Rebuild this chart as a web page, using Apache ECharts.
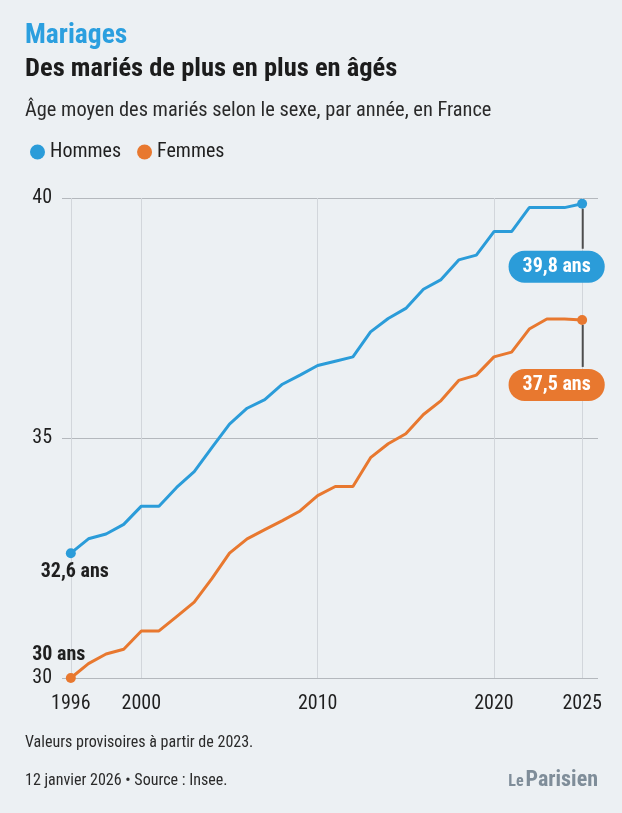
<!DOCTYPE html>
<html>
<head>
<meta charset="utf-8">
<script src="https://cdn.jsdelivr.net/npm/echarts@6/dist/echarts.min.js"></script>
<style>
html,body{margin:0;padding:0;background:#ecf0f3;}
#c{width:622px;height:813px;}
</style>
</head>
<body>
<div id="c"></div>
<script>
// ---- Data ----
const years = [1996,1997,1998,1999,2000,2001,2002,2003,2004,2005,2006,2007,2008,2009,2010,2011,2012,2013,2014,2015,2016,2017,2018,2019,2020,2021,2022,2023,2024,2025];
const hommes = [32.6,32.9,33.0,33.2,33.58,33.58,33.97,34.3,34.8,35.29,35.62,35.8,36.12,36.31,36.51,36.6,36.69,37.21,37.49,37.7,38.1,38.3,38.71,38.81,39.3,39.3,39.8,39.8,39.8,39.88];
const femmes = [30.0,30.3,30.5,30.6,30.98,30.98,31.28,31.58,32.07,32.6,32.9,33.09,33.28,33.48,33.8,33.99,33.99,34.59,34.88,35.09,35.49,35.78,36.2,36.31,36.69,36.79,37.27,37.48,37.48,37.46];
const seriesNames = ['Hommes','Femmes'];
const xTickValues = [1996,2000,2010,2020,2025];
const startLabels = ['32,6 ans','30 ans'];
const endLabels = ['39,8 ans','37,5 ans'];

const NARROW = '"Liberation Sans Narrow","Arial Narrow","Roboto Condensed","DejaVu Sans Condensed","Noto Sans",sans-serif';
const BLUE = '#2b9cd9';
const ORANGE = '#e8782f';
const TEXT = '#1f1f1f';

function makeSeries(idx, values, color, startShift, endShift, barHeight) {
  const n = values.length;
  return {
    type: 'line',
    name: seriesNames[idx],
    data: values.map((v, i) => {
      const item = { value: [years[i], v] };
      if (i === 0) {
        item.label = {
          show: true, position: 'inside',
          formatter: startLabels[idx], color: TEXT,
          fontSize: 20, fontWeight: 'bold', fontFamily: NARROW
        };
      }
      if (i === n - 1) {
        // guide line drawn as a thin rich-text bar right under the point, pill below it
        item.label = {
          show: true, position: 'inside',
          align: 'right', verticalAlign: 'top',
          formatter: '{bar|}{gap|}\n{sp|}\n{p|' + endLabels[idx] + '}',
          rich: {
            bar: { width: 2, height: barHeight, backgroundColor: '#4d4d4d', align: 'right' },
            gap: { width: 21, height: barHeight, align: 'right' },
            sp: { width: 1, height: 8, align: 'right' },
            p: {
              color: '#ffffff', backgroundColor: color, align: 'right',
              padding: [6, 14, 6, 14], borderRadius: 16, height: 20, lineHeight: 20,
              fontSize: 20, fontWeight: 'bold', fontFamily: NARROW
            }
          }
        };
      }
      return item;
    }),
    symbol: 'circle',
    symbolSize: (val, p) => (p.dataIndex === 0 || p.dataIndex === n - 1) ? 10 : 0,
    showSymbol: true,
    showAllSymbol: true,
    lineStyle: { width: 3, color: color },
    itemStyle: { color: color },
    labelLayout: (p) => {
      if (p.dataIndex === 0) return { dx: startShift[0], dy: startShift[1] };
      if (p.dataIndex === n - 1) return { dx: endShift[0], dy: endShift[1] };
      return {};
    },
    silent: true,
    emphasis: { disabled: true }
  };
}

const chart = echarts.init(document.getElementById('c'), null, { renderer: 'canvas' });
chart.setOption({
  backgroundColor: '#ecf0f3',
  animation: false,
  color: [BLUE, ORANGE],
  legend: {
    left: 25, top: 137,
    icon: 'circle', itemWidth: 15, itemHeight: 15, itemGap: 16,
    textStyle: { fontSize: 20, fontFamily: NARROW, color: TEXT },
    data: seriesNames,
    selectedMode: false
  },
  grid: { left: 62, right: 24, top: 198, bottom: 135, containLabel: false },
  xAxis: {
    type: 'value', min: 1995.5, max: 2025.9,
    axisLine: { show: false },
    axisTick: { show: false, customValues: xTickValues },
    axisLabel: {
      customValues: xTickValues, margin: 16,
      formatter: (v) => String(v),
      fontSize: 20, fontFamily: NARROW, color: TEXT
    },
    splitLine: { show: true, lineStyle: { color: '#d2d6db', width: 1 } }
  },
  yAxis: {
    type: 'value', min: 30, max: 40, interval: 5,
    axisLine: { show: false },
    axisTick: { show: false },
    axisLabel: { margin: 10, fontSize: 20, fontFamily: NARROW, color: TEXT },
    splitLine: { show: true, lineStyle: { color: '#b4b8bd', width: 1 } }
  },
  graphic: [
    { type: 'text', x: 25, y: 36.5, style: { text: 'Mariages', fontSize: 27.5, fontWeight: 'bold', fontFamily: NARROW, fill: '#2b9fdf', verticalAlign: 'middle' } },
    { type: 'text', x: 25, y: 69.8, style: { text: 'Des mariés de plus en plus en âgés', fontSize: 26.5, fontWeight: 'bold', fontFamily: NARROW, fill: '#1c1c1c', verticalAlign: 'middle' } },
    { type: 'text', x: 25, y: 110.6, style: { text: 'Âge moyen des mariés selon le sexe, par année, en France', fontSize: 20.4, fontFamily: NARROW, fill: '#2a2a2a', verticalAlign: 'middle' } },
    { type: 'text', x: 25, y: 743.3, style: { text: 'Valeurs provisoires à partir de 2023.', fontSize: 16, fontFamily: NARROW, fill: '#2a2a2a', verticalAlign: 'middle' } },
    { type: 'text', x: 25, y: 780.7, style: { text: '12 janvier 2026 • Source : Insee.', fontSize: 16, fontFamily: NARROW, fill: '#2a2a2a', verticalAlign: 'middle' } },
    { type: 'text', x: 598, y: 780, style: { text: '{a|Le}{b|Parisien}', align: 'right', verticalAlign: 'middle', fill: '#7f8d99', fontWeight: 'bold', fontFamily: NARROW,
      rich: { a: { fontSize: 16, fontWeight: 'bold', fontFamily: NARROW, fill: '#7f8d99', padding: [3, 2, 0, 0] }, b: { fontSize: 22, fontWeight: 'bold', fontFamily: NARROW, fill: '#7f8d99' } } } }
  ],
  series: [
    makeSeries(0, hommes, BLUE, [4, 19], [22.6, 5], 40),
    makeSeries(1, femmes, ORANGE, [-12, -23], [22.6, 5], 42)
  ]
});
</script>
</body>
</html>
